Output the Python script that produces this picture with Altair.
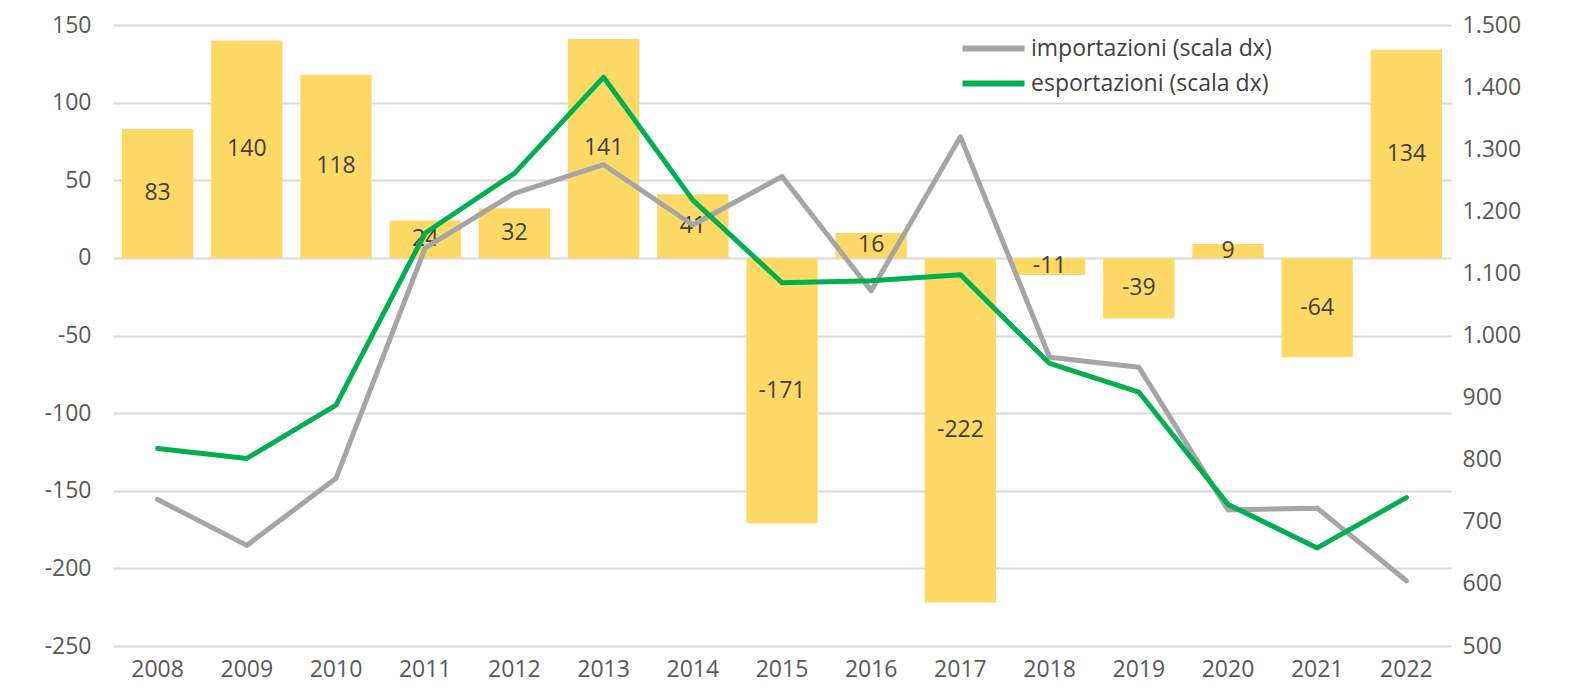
import altair as alt
import pandas as pd

anni = [str(y) for y in range(2008, 2023)]
saldo = [83, 140, 118, 24, 32, 141, 41, -171, 16, -222, -11, -39, 9, -64, 134]
importazioni = [736, 662, 770, 1141, 1229, 1275, 1178, 1256, 1072, 1320, 965, 949, 719, 722, 605]
esportazioni = [818, 802, 888, 1165, 1261, 1416, 1218, 1085, 1088, 1098, 955, 909, 728, 658, 739]

serie_imp = "importazioni (scala dx)"
serie_exp = "esportazioni (scala dx)"

left_ticks = [-250, -200, -150, -100, -50, 0, 50, 100, 150]
right_ticks = [500, 600, 700, 800, 900, 1000, 1100, 1200, 1300, 1400, 1500]

FONT = "Open Sans"

df_bar = pd.DataFrame({"anno": anni, "saldo": saldo, "lab": [str(v) for v in saldo]})
df_line = pd.DataFrame({
    "anno": anni * 2,
    "valore": importazioni + esportazioni,
    "serie": [serie_imp] * len(anni) + [serie_exp] * len(anni),
    "ordine": [0] * len(anni) + [1] * len(anni),
})

x_enc = alt.X(
    "anno:N",
    sort=anni,
    scale=alt.Scale(paddingInner=0.2, paddingOuter=0.1),
    axis=alt.Axis(
        title=None, labelAngle=0, domain=False, ticks=False, grid=False, labelPadding=12,
        labelFont=FONT, labelFontSize=23, labelColor="#595959",
    ),
)

y_left = alt.Y(
    "saldo:Q",
    scale=alt.Scale(domain=[-250, 150], nice=False, zero=False),
    axis=alt.Axis(
        title=None, orient="left", values=left_ticks, domain=False, ticks=False,
        labelPadding=22, labelFont=FONT, labelFontSize=23, labelColor="#595959",
        labelExpr="datum.value + ''", grid=True, gridColor="#D9D9D9", gridWidth=2,
    ),
)

bars = alt.Chart(df_bar).mark_bar(color="#FFD966").encode(x=x_enc, y=y_left)

labels = alt.Chart(df_bar).transform_calculate(mid="datum.saldo / 2").mark_text(
    font=FONT, fontSize=23, color="#404040", baseline="middle", align="center"
).encode(
    x=alt.X("anno:N", sort=anni),
    y=alt.Y("mid:Q"),
    text="lab:N",
)

left_layer = alt.layer(bars, labels)

lines = alt.Chart(df_line).mark_line(strokeWidth=5, strokeCap="round", strokeJoin="round").encode(
    x=alt.X("anno:N", sort=anni),
    y=alt.Y(
        "valore:Q",
        scale=alt.Scale(domain=[500, 1500], nice=False, zero=False),
        axis=alt.Axis(
            title=None, orient="right", values=right_ticks, domain=False, ticks=False,
            grid=False, labelPadding=11, labelFont=FONT, labelFontSize=23,
            labelColor="#595959",
            labelExpr="replace(format(datum.value, ','), ',', '.')",
        ),
    ),
    color=alt.Color(
        "serie:N",
        scale=alt.Scale(domain=[serie_imp, serie_exp], range=["#A5A5A5", "#00B050"]),
        legend=alt.Legend(
            title=None, orient="none", legendX=862, legendY=5, padding=0,
            symbolType="M-2,0H2", symbolSize=961, symbolStrokeWidth=6,
            labelOffset=19, rowPadding=4, labelFont=FONT, labelFontSize=23,
            labelColor="#404040", labelLimit=500,
        ),
    ),
    detail="serie:N",
    order="ordine:Q",
)

chart = alt.layer(left_layer, lines).resolve_scale(y="independent").properties(
    width=1338,
    height=621,
    background="white",
    padding={"left": 105, "top": 17, "right": 100, "bottom": 45},
    autosize=alt.AutoSizeParams(type="none"),
).configure_view(strokeWidth=0, stroke="transparent").configure_axis(
    domain=False, ticks=False
)

chart.save("out.html", embed_options={"renderer": "svg", "actions": False})
